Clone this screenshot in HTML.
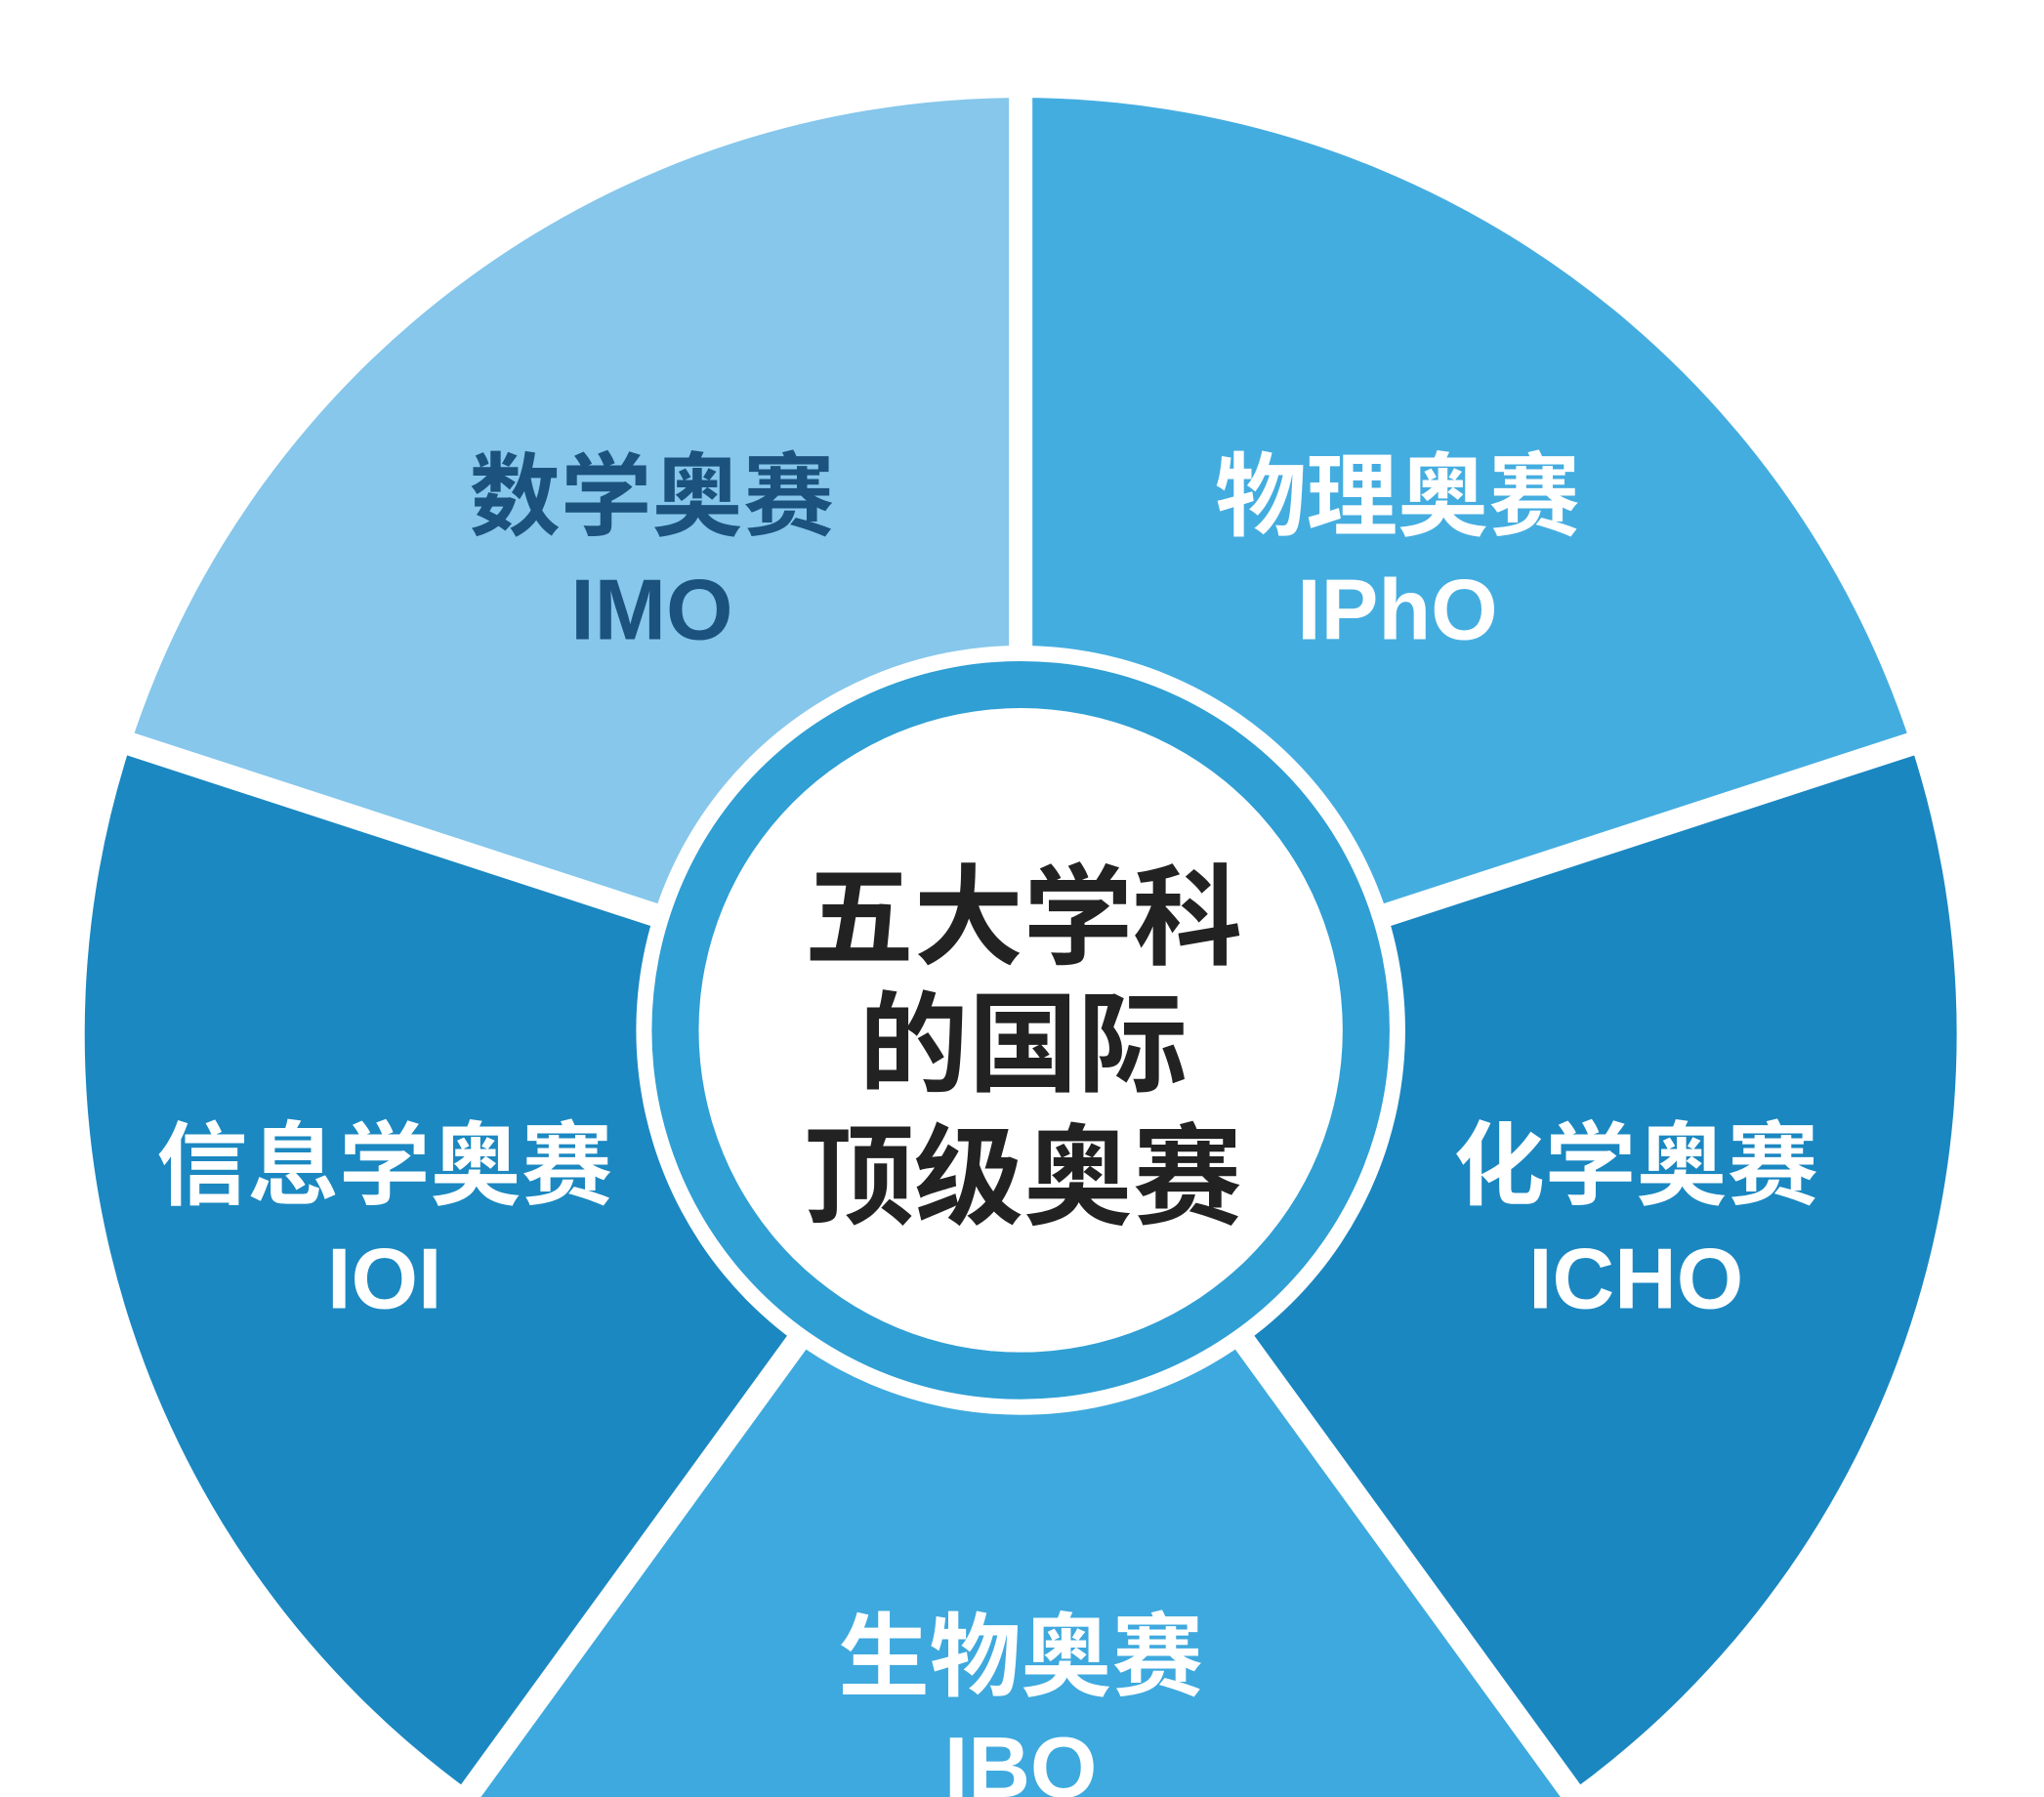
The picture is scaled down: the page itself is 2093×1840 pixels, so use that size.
<!DOCTYPE html>
<html><head><meta charset="utf-8"><style>
html,body{margin:0;padding:0;background:#fff;width:2093px;height:1840px;overflow:hidden;}
svg{display:block;}
text{font-family:"Liberation Sans","Noto Sans CJK SC",sans-serif;font-weight:700;text-anchor:middle;}
</style></head><body>
<svg width="2093" height="1840" viewBox="0 0 1568 1378" preserveAspectRatio="none">
<rect width="1568" height="1378" fill="#fff"/>
<path d="M783 793 L783 75 A718 718 0 0 0 100.1 571.1 Z" fill="#86c7eb"/>
<path d="M783 793 L1465.9 571.1 A718 718 0 0 0 783 75 Z" fill="#44ade0"/>
<path d="M783 793 L1205 1373.9 A718 718 0 0 0 1465.9 571.1 Z" fill="#1a87c1"/>
<path d="M783 793 L361 1373.9 A718 718 0 0 0 1205 1373.9 Z" fill="#3ea9de"/>
<path d="M783 793 L100.1 571.1 A718 718 0 0 0 361 1373.9 Z" fill="#1b88c1"/>
<g stroke="#fff" stroke-width="18">
<line x1="783" y1="793" x2="783" y2="60"/>
<line x1="783" y1="793" x2="86" y2="566"/>
<line x1="783" y1="793" x2="352" y2="1386"/>
<line x1="783" y1="793" x2="1214" y2="1386"/>
<line x1="783" y1="793" x2="1480" y2="566"/>
</g>
<circle cx="783" cy="790" r="295" fill="#fff"/>
<circle cx="783" cy="790" r="283" fill="#2f9fd4"/>
<circle cx="783" cy="790" r="247" fill="#fff"/>
<g font-size="70">
<text x="500" y="405" fill="#1b527e">数学奥赛</text>
<text x="1072" y="405" fill="#fff">物理奥赛</text>
<text x="295" y="918" fill="#fff">信息学奥赛</text>
<text x="1255" y="918" fill="#fff">化学奥赛</text>
<text x="783" y="1295" fill="#fff">生物奥赛</text>
</g>
<g font-size="66">
<text x="500" y="490" fill="#1b527e">IMO</text>
<text x="1072" y="490" fill="#fff">IPhO</text>
<text x="295" y="1003" fill="#fff">IOI</text>
<text x="1255" y="1003" fill="#fff">ICHO</text>
<text x="783" y="1378" fill="#fff">IBO</text>
</g>
<g font-size="84" fill="#222">
<text x="785" y="733">五大学科</text>
<text x="785" y="830">的国际</text>
<text x="785" y="932">顶级奥赛</text>
</g>
</svg>
</body></html>
